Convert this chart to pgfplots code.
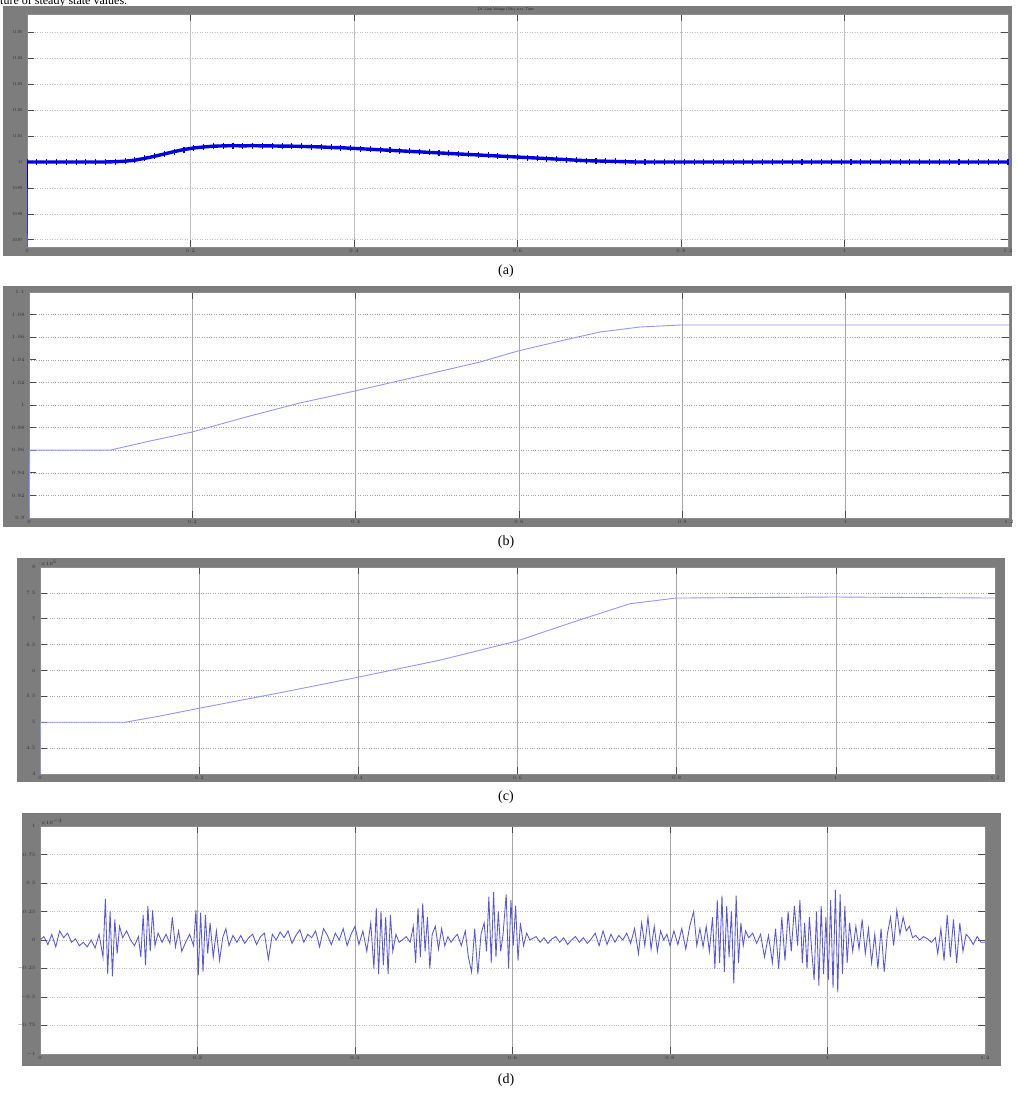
\documentclass[border=0pt]{standalone}
\usepackage{fontspec}
\setmainfont{Liberation Serif}
\usepackage{pgfplots}
\pgfplotsset{compat=1.18}
\definecolor{scopegray}{RGB}{125,125,125}
\definecolor{lineA}{RGB}{0,0,225}
\definecolor{lineB}{RGB}{150,150,250}
\definecolor{lineD}{RGB}{85,85,225}
\pgfplotsset{scopeplot/.style={scale only axis, axis background/.style={fill=white},
  xmin=0, xmax=1.2, xtick={0,0.2,0.4,0.6,0.8,1,1.2},
  grid=major, x grid style={black!35, line width=0.4pt},
  y grid style={black!35, dotted, line width=0.5pt},
  tick align=inside, tick pos=both, major tick length=7pt,
  tick style={black!70, line width=0.6pt},
  axis line style={black!45, line width=0.5pt},
  ticklabel style={font=\fontsize{4.5}{5}\selectfont, text=black!80},
  yticklabel style={xshift=-1pt}, xticklabel style={yshift=1pt},
  anchor=north west, clip=true}}
\begin{document}
\begin{tikzpicture}
\begin{scope}[x=1pt,y=1pt]
\useasboundingbox (0,0) rectangle (1012,1095);
\fill[white] (0,0) rectangle (1012,1095);
\node[anchor=base west, inner sep=0pt, font=\fontsize{12}{14}\selectfont] at (0,1090) {ture of steady state values.};
\fill[scopegray] (3,839) rectangle (1012,1089);
\fill[scopegray] (3,568) rectangle (1012,809);
\fill[scopegray] (17,313) rectangle (1005,537);
\fill[scopegray] (22,29) rectangle (1001,282);
\node[font=\fontsize{4}{5}\selectfont, text=black!85] at (506,1085) {DC Link Voltage (Vdc) w.r.t. Time};
\node[font=\fontsize{14}{16}\selectfont] at (506,824) {(a)};
\node[font=\fontsize{14}{16}\selectfont] at (506,553) {(b)};
\node[anchor=south west, inner sep=0.5pt, font=\fontsize{4}{5}\selectfont, text=black!85] at (40,528) {$\times10^{5}$};
\node[font=\fontsize{14}{16}\selectfont] at (506,298) {(c)};
\node[anchor=south west, inner sep=0.5pt, font=\fontsize{4}{5}\selectfont, text=black!85] at (40,269) {$\times10^{-3}$};
\node[font=\fontsize{14}{16}\selectfont] at (506,15) {(d)};
\end{scope}
% (a)
\begin{axis}[scopeplot, at={(27pt,1081pt)}, width=981pt, height=233pt,
  ymin=-3.28, ymax=5.71, ytick={-3,-2,-1,0,1,2,3,4,5},
  yticklabels={10.97,10.98,10.99,11,11.01,11.02,11.03,11.04,11.05},
  x grid style={black!25, line width=0.4pt}, y grid style={black!25, dotted, line width=0.5pt}]
\addplot[lineA, line width=0.8pt] coordinates {(0,-3.5) (0.0006,0)};
\addplot[lineA, line width=3.4pt, mark=|, mark size=3pt, mark options={line width=1.1pt}] coordinates {
(0.0006,0) (0.012,0) (0.024,0) (0.036,0) (0.048,0) (0.06,0) (0.072,0) (0.084,0) (0.096,0)
(0.108,0.01) (0.12,0.03) (0.132,0.07) (0.144,0.14) (0.156,0.22) (0.168,0.31) (0.18,0.40)
(0.192,0.48) (0.204,0.54) (0.216,0.58) (0.228,0.61) (0.24,0.62) (0.252,0.63) (0.264,0.62)
(0.276,0.63) (0.288,0.62) (0.3,0.62) (0.312,0.61) (0.324,0.61) (0.336,0.60) (0.348,0.59)
(0.36,0.58) (0.372,0.56) (0.384,0.55) (0.396,0.53) (0.408,0.51) (0.42,0.49) (0.432,0.47)
(0.444,0.45) (0.456,0.43) (0.468,0.41) (0.48,0.39) (0.492,0.37) (0.504,0.35) (0.516,0.33)
(0.528,0.31) (0.54,0.29) (0.552,0.27) (0.564,0.25) (0.576,0.23) (0.588,0.21) (0.6,0.19)
(0.612,0.17) (0.624,0.15) (0.636,0.13) (0.648,0.11) (0.66,0.09) (0.672,0.07) (0.684,0.05)
(0.696,0.04) (0.708,0.03) (0.72,0.02) (0.732,0.01) (0.744,0) (0.756,0) (0.768,0) (0.78,0)
(0.792,0) (0.804,0) (0.816,0) (0.828,0) (0.84,0) (0.852,0) (0.864,0) (0.876,0) (0.888,0)
(0.9,0) (0.912,0) (0.924,0) (0.936,0) (0.948,0) (0.96,0) (0.972,0) (0.984,0) (0.996,0)
(1.008,0) (1.02,0) (1.032,0) (1.044,0) (1.056,0) (1.068,0) (1.08,0) (1.092,0) (1.104,0)
(1.116,0) (1.128,0) (1.14,0) (1.152,0) (1.164,0) (1.176,0) (1.188,0) (1.2,0)};
\end{axis}
% (b)
\begin{axis}[scopeplot, at={(29pt,803pt)}, width=980pt, height=226pt,
  ymin=0.9, ymax=1.1, ytick={0.9,0.92,0.94,0.96,0.98,1,1.02,1.04,1.06,1.08,1.1},
  yticklabel style={/pgf/number format/fixed, /pgf/number format/precision=2}]
\addplot[lineB, line width=0.9pt] coordinates {
(0,0.88) (0.001,0.96) (0.099,0.96) (0.148,0.9681) (0.1996,0.9761) (0.2706,0.9903)
(0.3318,1.0018) (0.3992,1.0124) (0.4788,1.0257) (0.5522,1.038) (0.5988,1.0478)
(0.6502,1.0566) (0.6992,1.0646) (0.7481,1.069) (0.7983,1.0708) (1.2,1.0708)};
\end{axis}
% (c)
\begin{axis}[scopeplot, at={(40pt,528pt)}, width=955pt, height=207pt,
  ymin=4, ymax=8, ytick={4,4.5,5,5.5,6,6.5,7,7.5,8}]
\addplot[lineB, line width=0.9pt] coordinates {
(0,3.9) (0.0005,5) (0.1068,5) (0.1508,5.12) (0.1998,5.27) (0.3016,5.57) (0.3996,5.87)
(0.5026,6.20) (0.5994,6.57) (0.6786,6.98) (0.7414,7.29) (0.7992,7.40) (0.999,7.42) (1.2,7.40)};
\end{axis}
% (d)
\begin{axis}[scopeplot, at={(40pt,269pt)}, width=945pt, height=228pt,
  ymin=-1, ymax=1, ytick={-1,-0.75,-0.5,-0.25,0,0.25,0.5,0.75,1},
  y grid style={black!25, line width=0.4pt}]
\addplot[lineD, line width=0.85pt] coordinates {
(0,0) (0.005,0.03) (0.01,-0.04) (0.015,0.05) (0.02,-0.06) (0.025,0.08) (0.03,0.02) (0.035,0.06)
(0.04,-0.02) (0.045,0.01) (0.05,-0.05) (0.055,-0.02) (0.06,-0.06) (0.065,0) (0.07,-0.07)
(0.075,0.05) (0.08,-0.15) (0.083,0.36) (0.086,-0.30) (0.089,0.25) (0.092,-0.32) (0.095,0.18)
(0.098,-0.12) (0.101,0.12) (0.105,0.02) (0.11,0.08) (0.115,0) (0.12,-0.05) (0.125,0.03)
(0.128,-0.15) (0.131,0.22) (0.134,-0.22) (0.137,0.30) (0.140,-0.10) (0.143,0.26) (0.146,-0.05)
(0.15,0.06) (0.155,-0.02) (0.16,0.05) (0.165,-0.03) (0.168,0.20) (0.172,-0.06) (0.176,0.08)
(0.18,-0.1) (0.185,-0.02) (0.19,0.05) (0.195,-0.05) (0.198,0.26) (0.201,-0.31) (0.204,0.24)
(0.207,-0.28) (0.21,0.22) (0.213,-0.12) (0.216,0.15) (0.22,-0.15) (0.224,0.08) (0.228,-0.18)
(0.232,0.02) (0.236,0.1) (0.24,-0.05) (0.245,0.04) (0.25,-0.02) (0.255,0.04) (0.26,-0.03)
(0.265,0.02) (0.27,0.05) (0.275,-0.04) (0.28,0.03) (0.285,0.06) (0.29,-0.17) (0.295,0.05)
(0.30,0) (0.305,0.07) (0.31,0.02) (0.315,0.08) (0.32,-0.03) (0.325,0.04) (0.33,0.09)
(0.335,-0.02) (0.34,0.05) (0.345,0.02) (0.35,0.08) (0.355,-0.06) (0.36,0.1) (0.365,0.04)
(0.37,-0.04) (0.375,0.06) (0.38,0) (0.385,0.1) (0.39,-0.05) (0.395,0.05) (0.40,0.12)
(0.405,-0.04) (0.41,0.08) (0.415,-0.10) (0.42,0.15) (0.424,-0.25) (0.427,0.28) (0.43,-0.30)
(0.433,0.25) (0.436,-0.22) (0.439,0.2) (0.442,-0.3) (0.445,0.22) (0.448,-0.1) (0.452,0.05)
(0.456,-0.02) (0.46,0) (0.465,0.03) (0.47,-0.02) (0.474,0.12) (0.477,-0.2) (0.48,0.28)
(0.483,-0.15) (0.486,0.32) (0.489,-0.1) (0.492,0.2) (0.495,-0.25) (0.498,0.05) (0.502,0.12)
(0.506,-0.08) (0.51,0.1) (0.514,-0.05) (0.518,0.03) (0.522,-0.02) (0.526,0.02) (0.53,0.05)
(0.535,-0.05) (0.54,0.08) (0.544,-0.15) (0.548,-0.28) (0.552,0.1) (0.556,-0.3) (0.56,0.05)
(0.564,0.15) (0.567,-0.1) (0.57,0.38) (0.573,-0.2) (0.576,0.42) (0.579,-0.15) (0.582,0.25)
(0.585,-0.1) (0.588,0.05) (0.592,0.4) (0.595,-0.25) (0.598,0.35) (0.601,-0.05) (0.604,0.3)
(0.607,-0.18) (0.61,0.15) (0.614,-0.05) (0.618,0.06) (0.622,0) (0.63,0.03) (0.635,-0.02)
(0.64,0.02) (0.645,-0.03) (0.65,0.01) (0.655,0.03) (0.66,-0.02) (0.665,0.02) (0.67,-0.04)
(0.675,0) (0.68,0.03) (0.685,-0.02) (0.69,0.02) (0.695,-0.03) (0.70,0.01) (0.705,0.06)
(0.71,-0.05) (0.715,0.08) (0.72,-0.04) (0.725,0.05) (0.73,-0.02) (0.735,0.04) (0.74,0)
(0.745,0.06) (0.75,-0.03) (0.755,0.1) (0.76,-0.12) (0.764,0.15) (0.768,-0.05) (0.772,0.2)
(0.776,-0.08) (0.78,0.12) (0.784,-0.1) (0.788,0.08) (0.792,0) (0.796,0.05) (0.80,-0.05)
(0.805,0.08) (0.81,-0.04) (0.815,0.1) (0.82,-0.08) (0.825,0.12) (0.83,0.25) (0.834,-0.05)
(0.838,0.1) (0.842,-0.06) (0.846,0.12) (0.85,-0.1) (0.854,0.2) (0.857,-0.25) (0.86,0.35)
(0.863,-0.2) (0.866,0.39) (0.869,-0.28) (0.872,0.3) (0.875,-0.15) (0.878,0.25) (0.881,-0.38)
(0.884,0.39) (0.887,-0.2) (0.89,0.15) (0.893,-0.05) (0.896,0.08) (0.9,0.02) (0.905,0.06)
(0.91,-0.03) (0.915,0.05) (0.92,-0.15) (0.925,0.04) (0.93,-0.2) (0.934,0.1) (0.938,-0.25)
(0.942,0.2) (0.946,-0.18) (0.95,0.25) (0.954,-0.1) (0.958,0.3) (0.962,-0.05) (0.965,0.35)
(0.968,-0.2) (0.971,0.15) (0.974,-0.25) (0.977,0.2) (0.98,-0.1) (0.983,-0.35) (0.986,0.25)
(0.989,-0.4) (0.992,0.3) (0.995,-0.3) (0.998,0.2) (1.001,-0.35) (1.004,0.35) (1.007,-0.42)
(1.01,0.44) (1.013,-0.46) (1.016,0.4) (1.019,-0.3) (1.022,0.3) (1.025,-0.2) (1.028,0.15)
(1.032,-0.1) (1.036,0.12) (1.04,-0.08) (1.044,0.18) (1.048,-0.12) (1.052,0.1) (1.056,-0.2)
(1.06,0.05) (1.064,-0.25) (1.068,0.1) (1.072,-0.28) (1.076,0.05) (1.08,0.2) (1.084,-0.05)
(1.088,0.26) (1.092,0.05) (1.096,0.2) (1.1,0.08) (1.104,0.12) (1.108,0.02) (1.112,0.04)
(1.117,0) (1.122,0.03) (1.127,0.01) (1.132,-0.02) (1.137,0.02) (1.14,-0.12) (1.144,0.1)
(1.148,-0.18) (1.152,0.22) (1.156,-0.15) (1.16,0.18) (1.164,-0.2) (1.168,0.15) (1.172,-0.1)
(1.176,0.05) (1.18,0.02) (1.185,-0.04) (1.19,0.03) (1.195,-0.02) (1.2,-0.02)};
\end{axis}
\end{tikzpicture}
\end{document}
